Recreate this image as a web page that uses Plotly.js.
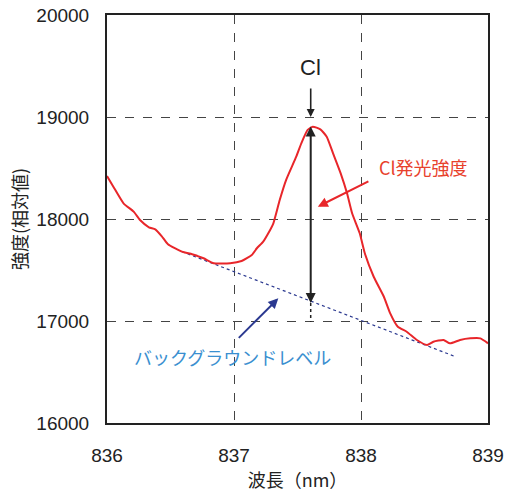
<!DOCTYPE html>
<html>
<head>
<meta charset="utf-8">
<script src="https://cdn.plot.ly/plotly-3.0.1.min.js"></script>
<style>html,body{margin:0;padding:0;background:#fff;}#chart{width:519px;height:492px;}</style>
</head>
<body>
<div id="chart"></div>
<script>
// Emission spectrum (wavelength nm, relative intensity)
const wavelength = [836.00, 836.05, 836.13, 836.21, 836.26, 836.33, 836.38, 836.43, 836.48, 836.59,
  836.67, 836.76, 836.84, 836.97, 837.06, 837.14, 837.18, 837.23, 837.27, 837.31,
  837.36, 837.41, 837.49, 837.53, 837.58, 837.62, 837.68, 837.73, 837.78, 837.84,
  837.89, 837.93, 837.99, 838.03, 838.10, 838.18, 838.23, 838.29, 838.36, 838.44,
  838.52, 838.57, 838.65, 838.70, 838.78, 838.86, 838.94, 839.00];
const intensity = [18422, 18317, 18154, 18072, 17990, 17919, 17899, 17833, 17752, 17680,
  17654, 17615, 17566, 17566, 17588, 17647, 17713, 17778, 17860, 17958,
  18186, 18382, 18611, 18742, 18873, 18905, 18879, 18807, 18644, 18448,
  18252, 18056, 17860, 17664, 17434, 17238, 17075, 16944, 16895, 16814,
  16765, 16797, 16814, 16781, 16814, 16830, 16830, 16781];
// Background level (dotted straight line)
const bgWavelength = [836.59, 838.73];
const bgIntensity = [17680, 16657];
// Cl peak marker
const peakX = 837.604;
const peakTop = 18922, peakBase = 17176, peakBaseEnd = 16990, peakLabelTop = 19294, peakRef = 19000;
const xTicks = [836, 837, 838, 839];
const yTicks = [16000, 17000, 18000, 19000, 20000];
const yTickText = ['16000', '17000', '18000', '19000', '20000'];

const FONT = "'Liberation Sans', Arial, 'Noto Sans CJK JP', sans-serif";
const JFONT = "'Noto Sans CJK JP', 'Liberation Sans', sans-serif";

const traces = [
  {x: bgWavelength, y: bgIntensity, mode: 'lines', line: {color: '#2b3990', width: 1.2, dash: 'dot'}, hoverinfo: 'skip'},
  {x: wavelength, y: intensity, mode: 'lines', line: {color: '#e8262a', width: 2, shape: 'spline', smoothing: 0.5}}
];

const layout = {
  width: 519, height: 492,
  margin: {l: 107, r: 31, t: 15, b: 69},
  paper_bgcolor: '#fff', plot_bgcolor: '#fff',
  showlegend: false,
  font: {family: FONT, color: '#222'},
  xaxis: {
    range: [836, 839], tickvals: xTicks, ticks: '', ticklabelstandoff: 14,
    tickfont: {size: 19, family: FONT, color: '#222'},
    showgrid: true, gridcolor: '#444', griddash: 'dash', gridwidth: 1,
    showline: true, linecolor: '#222', linewidth: 2, mirror: true, zeroline: false,
    title: {text: '波長（nm）', font: {size: 18, family: JFONT, color: '#222'}, standoff: 8}
  },
  yaxis: {
    range: [16000, 20000], tickvals: yTicks, ticktext: yTickText, ticks: '', ticklabelstandoff: 12,
    tickfont: {size: 19, family: FONT, color: '#222'},
    showgrid: true, gridcolor: '#444', griddash: 'dash', gridwidth: 1,
    showline: true, linecolor: '#222', linewidth: 2, mirror: true, zeroline: false,
    title: {text: '強度(相対値)', font: {size: 18, family: JFONT, color: '#222'}, standoff: 4}
  },
  shapes: [
    {type: 'line', xref: 'x', yref: 'y', x0: peakX, x1: peakX, y0: peakBase, y1: peakBaseEnd,
     line: {color: '#222', width: 1.5, dash: 'dot'}}
  ],
  annotations: [
    {x: peakX, y: 19490, xref: 'x', yref: 'y', text: 'Cl', showarrow: false,
     font: {size: 22, family: FONT, color: '#222'}},
    {x: peakX, y: peakRef, xref: 'x', yref: 'y', ax: peakX, ay: peakLabelTop, axref: 'x', ayref: 'y',
     showarrow: true, arrowhead: 2, arrowsize: 1, arrowwidth: 1.6, arrowcolor: '#222', text: ''},
    {x: peakX, y: peakBase, xref: 'x', yref: 'y', ax: peakX, ay: peakTop, axref: 'x', ayref: 'y',
     showarrow: true, arrowhead: 2, startarrowhead: 2, arrowside: 'end+start', arrowsize: 1, startarrowsize: 1,
     arrowwidth: 2, arrowcolor: '#222', text: ''},
    {x: 838.49, y: 18513, xref: 'x', yref: 'y', text: 'Cl発光強度', showarrow: false,
     font: {size: 18, family: JFONT, color: '#e8412c'}},
    {x: 837.66, y: 18121, xref: 'x', yref: 'y', ax: 838.07, ay: 18376, axref: 'x', ayref: 'y',
     showarrow: true, arrowhead: 2, arrowsize: 1, arrowwidth: 2, arrowcolor: '#e8262a', text: ''},
    {x: 836.99, y: 16650, xref: 'x', yref: 'y', text: 'バックグラウンドレベル', showarrow: false,
     font: {size: 18, family: JFONT, color: '#3a8fd0'}},
    {x: 837.349, y: 17222, xref: 'x', yref: 'y', ax: 837.026, ay: 16820, axref: 'x', ayref: 'y',
     showarrow: true, arrowhead: 2, arrowsize: 1, arrowwidth: 2, arrowcolor: '#2b3990', text: ''}
  ]
};

Plotly.newPlot('chart', traces, layout, {displayModeBar: false, staticPlot: true});
</script>
</body>
</html>
